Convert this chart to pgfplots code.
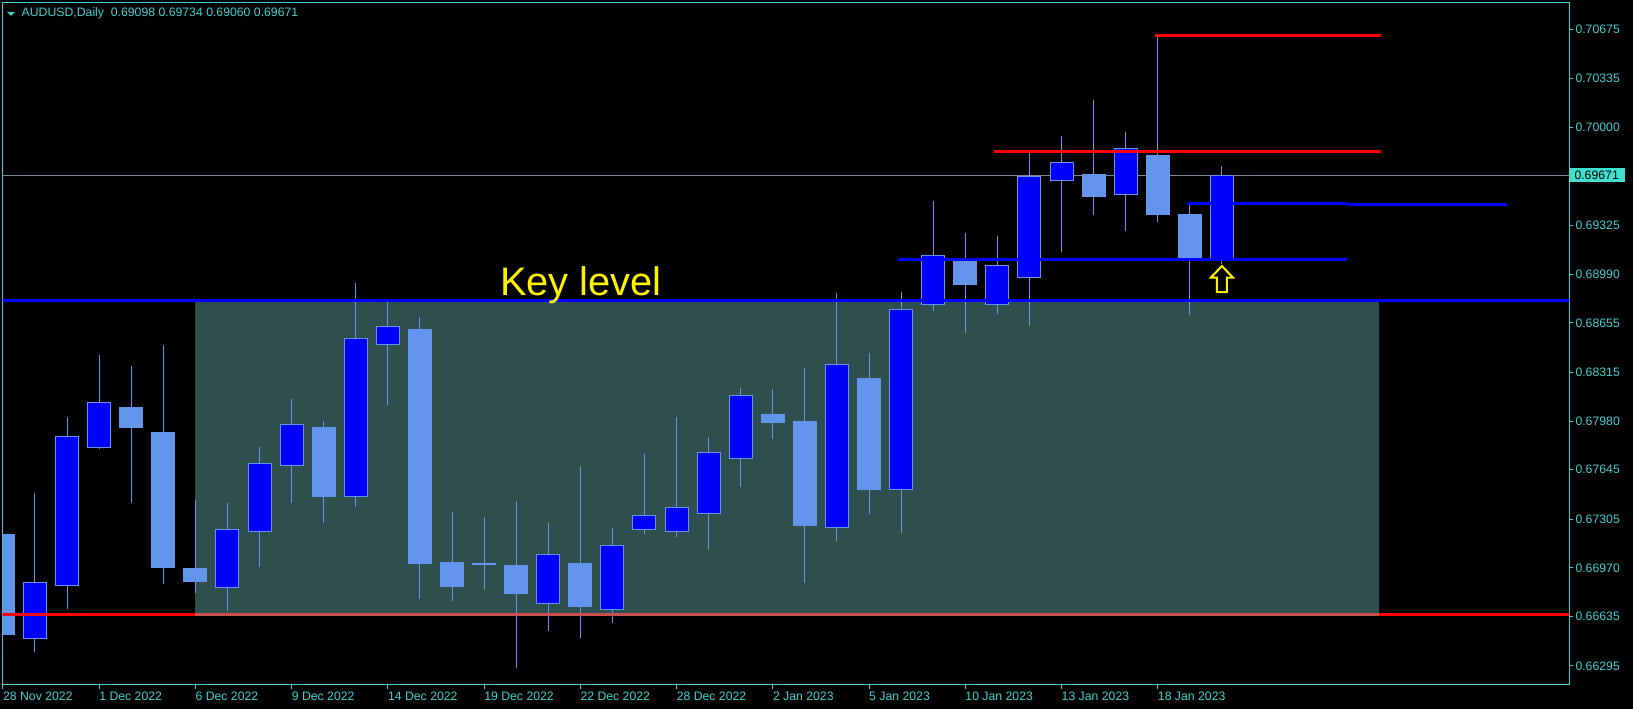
\documentclass[border=0pt]{standalone}
\usepackage{fontspec}
\setmainfont{Liberation Sans}
\usepackage{pgfplots}
\pgfplotsset{compat=1.18}
\usepackage{pgfplotstable}

\definecolor{mtcyan}{RGB}{64,208,208}
\definecolor{mtlabel}{RGB}{64,224,208}
\definecolor{candle}{RGB}{100,149,237}
\definecolor{boxfill}{RGB}{47,79,79}
\definecolor{dimred}{RGB}{200,80,80}
\definecolor{pricegray}{RGB}{119,136,153}

% up arrow mark under the last candle
\pgfdeclareplotmark{mtarrow}{%
  \pgfpathmoveto{\pgfqpoint{0bp}{13bp}}%
  \pgfpathlineto{\pgfqpoint{11bp}{1.5bp}}%
  \pgfpathlineto{\pgfqpoint{5bp}{1.5bp}}%
  \pgfpathlineto{\pgfqpoint{5bp}{-13bp}}%
  \pgfpathlineto{\pgfqpoint{-5bp}{-13bp}}%
  \pgfpathlineto{\pgfqpoint{-5bp}{1.5bp}}%
  \pgfpathlineto{\pgfqpoint{-11bp}{1.5bp}}%
  \pgfpathclose
  \pgfusepathqstroke}

% bullish candles: index open high low close
\pgfplotstableread{
x o h l c
1 0.66478 0.67483 0.66393 0.66870
2 0.66843 0.68006 0.66689 0.67875
3 0.67792 0.68434 0.67787 0.68109
7 0.66833 0.67414 0.66675 0.67235
8 0.67214 0.67799 0.66978 0.67689
9 0.67668 0.68131 0.67416 0.67957
11 0.67455 0.68930 0.67391 0.68549
12 0.68501 0.68813 0.68090 0.68632
17 0.66719 0.67278 0.66537 0.67063
19 0.66678 0.67244 0.66592 0.67125
20 0.67228 0.67753 0.67205 0.67331
21 0.67219 0.68008 0.67184 0.67386
22 0.67338 0.67870 0.67093 0.67765
23 0.67717 0.68207 0.67528 0.68157
26 0.67246 0.68861 0.67155 0.68370
28 0.67503 0.68868 0.67212 0.68749
29 0.68776 0.69494 0.68739 0.69120
31 0.68776 0.69253 0.68718 0.69051
32 0.68962 0.69822 0.68636 0.69664
33 0.69629 0.69941 0.69145 0.69760
35 0.69533 0.69968 0.69289 0.69856
38 0.69098 0.69734 0.69060 0.69671
}\bull

% bearish candles
\pgfplotstableread{
x o h l c
0 0.67203 0.67283 0.66405 0.66508
4 0.68076 0.68359 0.67418 0.67934
5 0.67904 0.68503 0.66861 0.66971
6 0.66969 0.67435 0.66799 0.66875
10 0.67939 0.67980 0.67280 0.67459
13 0.68613 0.68696 0.66758 0.66998
14 0.67010 0.67354 0.66744 0.66840
15 0.67003 0.67320 0.66819 0.66991
16 0.66989 0.67430 0.66283 0.66792
18 0.67003 0.67671 0.66489 0.66703
24 0.68028 0.68200 0.67858 0.67968
25 0.67980 0.68345 0.66868 0.67260
27 0.68276 0.68446 0.67342 0.67507
30 0.69081 0.69274 0.68588 0.68918
34 0.69680 0.70189 0.69399 0.69523
36 0.69810 0.70622 0.69351 0.69399
37 0.69404 0.69468 0.68711 0.69104
}\bear

\pgfplotsset{
  candlebar/.style={draw=none, mark=none, forget plot,
    error bars/.cd, y dir=plus, y explicit, error mark=none,
    error bar style={#1}},
}

\begin{document}
\begin{tikzpicture}
\useasboundingbox (0,0) rectangle (1633bp,709bp);
\fill[black] (0,0) rectangle (1633bp,709bp);
\begin{axis}[
  at={(2.5bp,24bp)}, anchor=south west,
  width=1566.8bp, height=682.5bp, scale only axis,
  xmin=-0.0125, xmax=48.83,
  ymin=0.661641, ymax=0.708594,
  axis background/.style={fill=black},
  axis line style={mtcyan, line width=1bp},
  tick style={mtcyan, line width=1bp},
  tick align=outside, major tick length=4bp,
  xtick pos=lower, ytick pos=right, yticklabel pos=right,
  font=\fontsize{12.3}{14}\selectfont,
  xtick={0,3,6,9,12,15,18,21,24,27,30,33,36},
  xticklabels={28 Nov 2022, 1 Dec 2022, 6 Dec 2022, 9 Dec 2022, 14 Dec 2022,
    19 Dec 2022, 22 Dec 2022, 28 Dec 2022, 2 Jan 2023, 5 Jan 2023,
    10 Jan 2023, 13 Jan 2023, 18 Jan 2023},
  xticklabel style={anchor=north west, inner sep=0pt, text=mtcyan, yshift=-3bp},
  ytick={0.70675,0.70335,0.70000,0.69325,0.68990,0.68655,0.68315,0.67980,
    0.67645,0.67305,0.66970,0.66635,0.66295},
  yticklabels={0.70675,0.70335,0.70000,0.69325,0.68990,0.68655,0.68315,0.67980,
    0.67645,0.67305,0.66970,0.66635,0.66295},
  yticklabel style={anchor=west, inner sep=0pt, text=mtcyan, xshift=2bp},
  extra y ticks={0.69671},
  extra y tick labels={0.69671},
  extra y tick style={major tick length=0pt,
    yticklabel style={fill=mtlabel, text=black, inner xsep=6bp, inner ysep=2.5bp, xshift=-3bp}},
]
% shaded zone between the key level and the support line
\addplot [fill=boxfill, draw=none] coordinates
  {(6,0.68806) (42.9,0.68806) (42.9,0.66638) (6,0.66638)} -- cycle;

% last price line
\addplot [pricegray, line width=1bp] coordinates {(-1,0.69671) (50,0.69671)};

% wicks
\addplot [candlebar={draw=candle, line width=1bp}]
  table [x=x, y=l, y error expr=\thisrow{h}-\thisrow{l}] {\bull};
\addplot [candlebar={draw=candle, line width=1bp}]
  table [x=x, y=l, y error expr=\thisrow{h}-\thisrow{l}] {\bear};

% bodies
\addplot [candlebar={draw=candle, line width=24bp}]
  table [x=x, y=o, y error expr=\thisrow{c}-\thisrow{o}] {\bull};
\addplot [candlebar={draw=blue, line width=22bp, shorten <=1bp, shorten >=1bp}]
  table [x=x, y=o, y error expr=\thisrow{c}-\thisrow{o}] {\bull};
\addplot [candlebar={draw=candle, line width=24bp}]
  table [x=x, y=c, y error expr=\thisrow{o}-\thisrow{c}] {\bear};

% horizontal levels
\addplot [red, line width=3bp] coordinates {(-1,0.66651) (50,0.66651)};
\addplot [dimred, line width=3bp] coordinates {(6,0.66651) (42.9,0.66651)};
\addplot [blue, line width=3bp] coordinates {(-1,0.68806) (50,0.68806)};
\addplot [red, line width=3bp] coordinates {(35.9,0.70629) (42.95,0.70629)};
\addplot [red, line width=3bp] coordinates {(30.9,0.69836) (42.95,0.69836)};
\addplot [blue, line width=3bp] coordinates {(36.9,0.69478) (41.9,0.69478)};
\addplot [blue, line width=3bp] coordinates {(41.9,0.69471) (46.9,0.69471)};
\addplot [blue, line width=3bp] coordinates {(27.9,0.69093) (41.9,0.69093)};

% signal arrow
\addplot [only marks, mark=mtarrow, mark options={draw=yellow, line width=2bp}]
  coordinates {(38,0.68957)};
\end{axis}
\fill[mtcyan] (7bp,697bp) -- (15bp,697bp) -- (11bp,693bp) -- cycle;
\node[anchor=base west, inner sep=0pt, text=mtcyan, font=\fontsize{12.3}{14}\selectfont]
  at (21.5bp,692.3bp) {AUDUSD,Daily\ \ 0.69098 0.69734 0.69060 0.69671};
\node[anchor=base west, inner sep=0pt, text=yellow, font=\fontsize{40}{44}\selectfont]
  at (500bp,413.3bp) {Key level};
\end{tikzpicture}
\end{document}
